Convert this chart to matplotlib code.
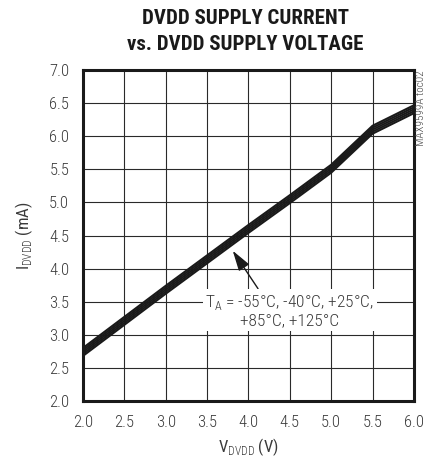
import matplotlib
matplotlib.use("Agg")
import matplotlib.pyplot as plt

# supply voltage (V) and supply current (mA), one row per temperature
volts = [2.0, 2.5, 3.0, 3.5, 4.0, 4.5, 5.0, 5.5, 6.0]
temps = ["-55°C", "-40°C", "+25°C", "+85°C", "+125°C"]
i_m55 = [2.80, 3.27, 3.74, 4.20, 4.66, 5.11, 5.57, 6.16, 6.47]
i_m40 = [2.77, 3.24, 3.71, 4.17, 4.63, 5.08, 5.54, 6.13, 6.44]
i_p25 = [2.74, 3.21, 3.68, 4.14, 4.60, 5.05, 5.51, 6.10, 6.41]
i_p85 = [2.71, 3.18, 3.65, 4.11, 4.57, 5.02, 5.48, 6.07, 6.38]
i_p125 = [2.68, 3.15, 3.62, 4.08, 4.54, 4.99, 5.45, 6.04, 6.35]
x_ticks = [2.0, 2.5, 3.0, 3.5, 4.0, 4.5, 5.0, 5.5, 6.0]
y_ticks = [2.0, 2.5, 3.0, 3.5, 4.0, 4.5, 5.0, 5.5, 6.0, 6.5, 7.0]

plt.rcParams["font.family"] = ["Roboto Condensed", "DejaVu Sans"]
plt.rcParams["font.weight"] = "light"
plt.rcParams["mathtext.fontset"] = "custom"
plt.rcParams["mathtext.rm"] = "Roboto Condensed:light"

txt = "#3a3a3a"

fig = plt.figure(figsize=(4.28, 4.65), dpi=100)
ax = fig.add_axes([0.194, 0.138, 0.773, 0.711])

for curve in [i_m55, i_m40, i_p25, i_p85, i_p125]:
    ax.plot(volts, curve, color="#1a1a1a", lw=1.5, solid_capstyle="butt", zorder=3)

ax.set_xlim(2.0, 6.0)
ax.set_ylim(2.0, 7.0)
ax.set_xticks(x_ticks)
ax.set_yticks(y_ticks)
ax.set_xticklabels([f"{v:.1f}" for v in x_ticks])
ax.set_yticklabels([f"{v:.1f}" for v in y_ticks])
ax.tick_params(length=0, labelsize=12, labelcolor=txt, pad=10)
ax.grid(True, color="#2a2a2a", lw=0.8)
for s in ax.spines.values():
    s.set_linewidth(2.2)
    s.set_color("#1a1a1a")

ax.set_xlabel("V$_{\\mathrm{DVDD}}$ (V)", fontsize=12, color=txt, labelpad=5)
ax.set_ylabel("I$_{\\mathrm{DVDD}}$ (mA)", fontsize=12, color=txt, labelpad=10)

ax.annotate(
    "T$_{\\mathrm{A}}$ = " + ", ".join(temps[:3]) + ",\n" + ", ".join(temps[3:]),
    xy=(3.81, 4.27), xytext=(4.5, 3.36),
    ha="center", va="center", fontsize=12.5, color=txt, linespacing=1.1,
    bbox=dict(boxstyle="square,pad=0.15", fc="white", ec="none"),
    arrowprops=dict(arrowstyle="-|>,head_length=1.0,head_width=0.3", color="#1a1a1a",
                    lw=1.0, shrinkA=0, shrinkB=0, relpos=(0.33, 1.0)),
    zorder=4,
)

fig.text(0.573, 0.932, "DVDD SUPPLY CURRENT\nvs. DVDD SUPPLY VOLTAGE", ha="center", va="center",
         fontsize=15, fontweight="heavy", color="#1a1a1a", linespacing=1.42)
fig.text(0.984, 0.848, "MAX9599A toc02", rotation=90, ha="center", va="top",
         fontsize=8, color="#444444")

fig.savefig("out.png", dpi=100)
